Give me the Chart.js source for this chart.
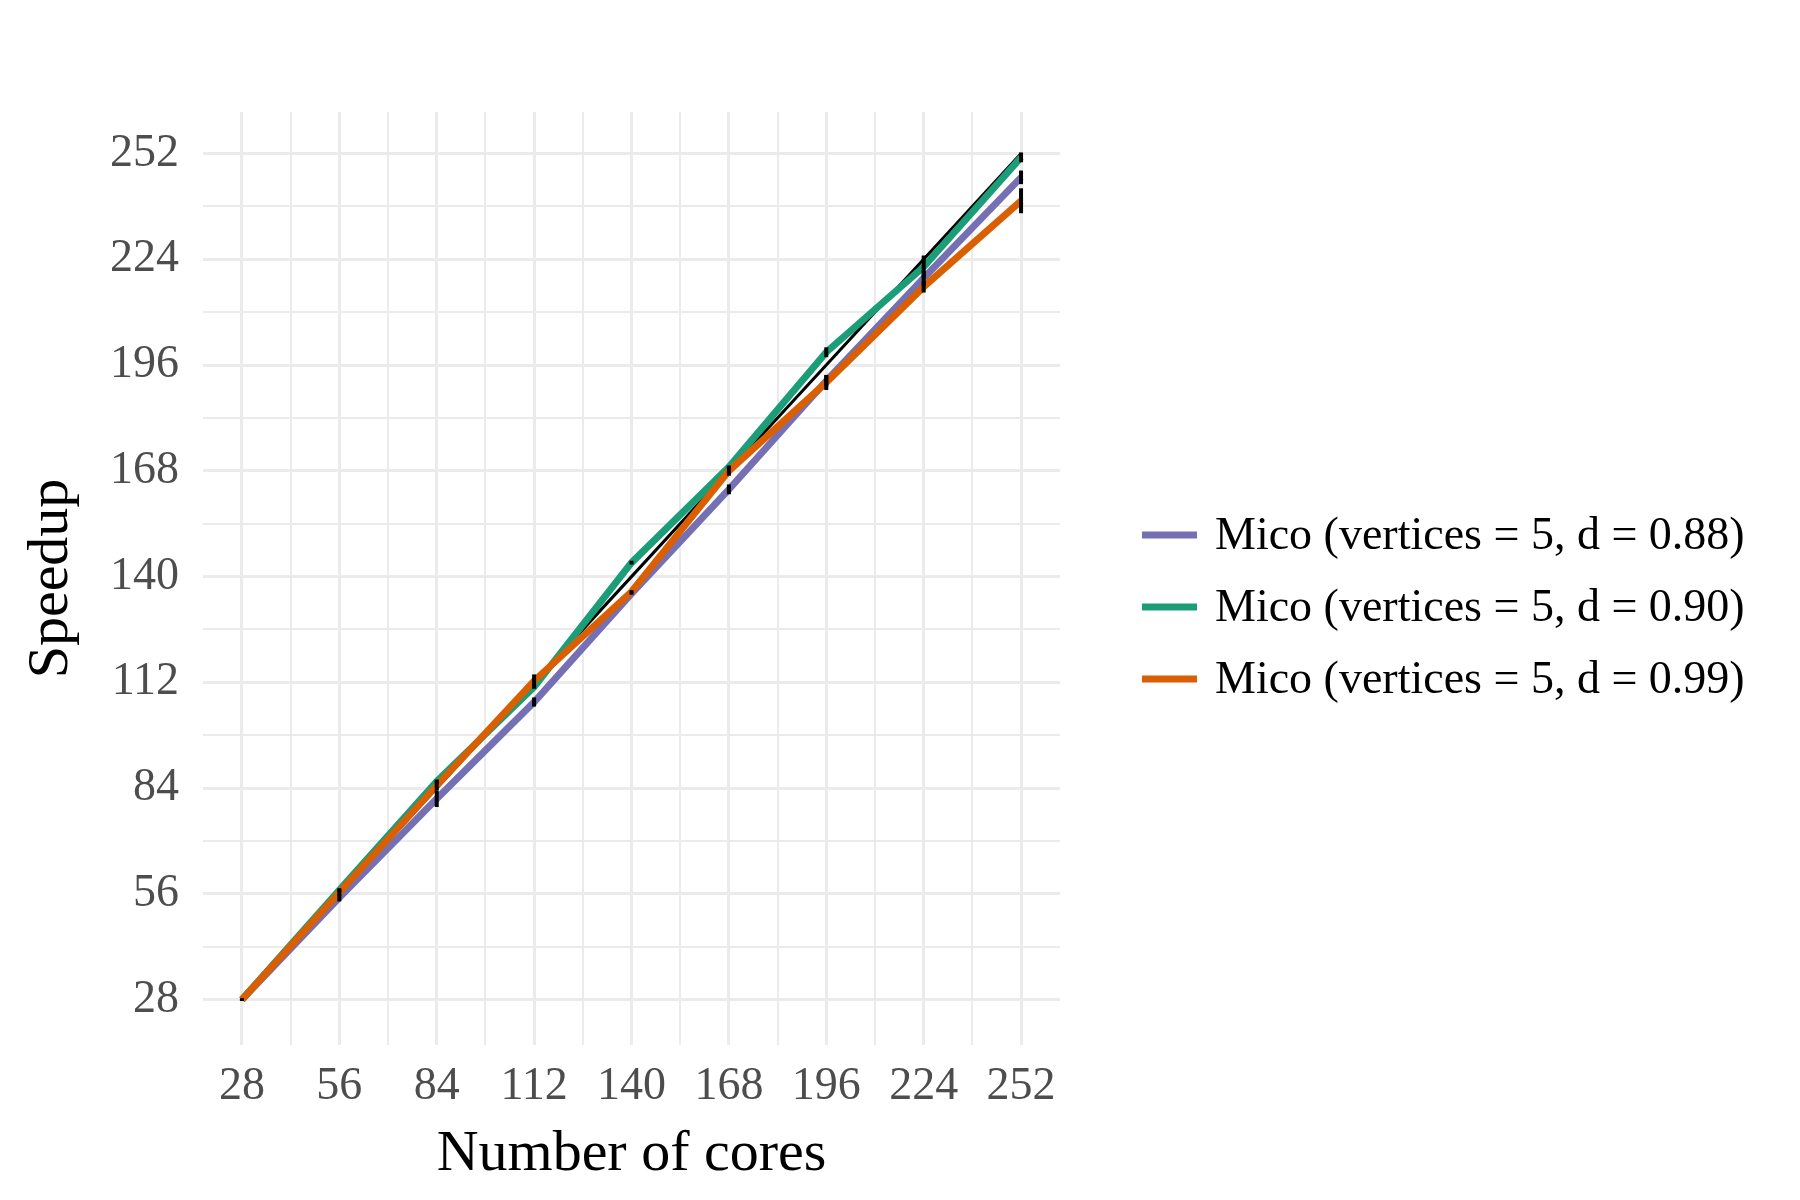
<!DOCTYPE html>
<html>
<head>
<meta charset="utf-8">
<script src="https://cdn.jsdelivr.net/npm/chart.js@4.4.1/dist/chart.umd.min.js"></script>
<style>
  html, body { margin: 0; padding: 0; background: #fff; }
  #speedup { display: block; }
</style>
</head>
<body>
<canvas id="speedup" width="1800" height="1200"></canvas>
<script>
// Data
const cores = [28, 56, 84, 112, 140, 168, 196, 224, 252]
const idealSpeedup = [28, 56, 84, 112, 140, 168, 196, 224, 252]

const speedupD088 = [28, 55, 81.2, 106.8, 135.5, 163.1, 191.8, 219, 245.7]
const speedupD090 = [28, 57, 85.8, 110.8, 143.7, 169, 199.4, 222, 251]
const speedupD099 = [28, 56.4, 84.7, 112.4, 136, 168, 191.4, 216.7, 239.5]

// half height of each error bar
const errD088 = [0.3, 1, 2.2, 1.2, 0.3, 1.3, 1.5, 2, 1.8]
const errD090 = [0.3, 0.5, 0.5, 0.5, 0.5, 0.4, 1.3, 3, 1.3]
const errD099 = [0.3, 0.8, 1.3, 1.7, 0.4, 1.3, 2, 1.5, 3.3]

const seriesLabels = [
  'Mico (vertices = 5, d = 0.88)',
  'Mico (vertices = 5, d = 0.90)',
  'Mico (vertices = 5, d = 0.99)',
]

const majorTicks = [28, 56, 84, 112, 140, 168, 196, 224, 252]
const minorTicks = [42, 70, 98, 126, 154, 182, 210, 238]

const PURPLE = '#7570B3'
const GREEN = '#1B9E77'
const ORANGE = '#D95F02'
const GRID = '#EBEBEB'
const SERIF = "'Liberation Serif', 'DejaVu Serif', serif"

const toPoints = ys => cores.map((x, i) => ({ x: x, y: ys[i] }))

const series = [
  { label: seriesLabels[0], data: toPoints(speedupD088), errors: errD088, color: PURPLE, order: 3 },
  { label: seriesLabels[1], data: toPoints(speedupD090), errors: errD090, color: GREEN, order: 2 },
  { label: seriesLabels[2], data: toPoints(speedupD099), errors: errD099, color: ORANGE, order: 1 },
]

const datasets = series.map(s => ({
  label: s.label,
  data: s.data,
  errorBars: s.errors,
  borderColor: s.color,
  backgroundColor: s.color,
  borderWidth: 7,
  pointRadius: 0,
  tension: 0,
  order: s.order,
}))
datasets.push({
  label: 'ideal',
  data: toPoints(idealSpeedup),
  borderColor: '#000000',
  borderWidth: 3,
  pointRadius: 0,
  tension: 0,
  order: 4,
})

const allTicks = [...majorTicks, ...minorTicks].sort((a, b) => a - b)
const setTicks = axis => {
  axis.ticks = allTicks.map(v => ({ value: v }))
}
const tickLabel = v => (majorTicks.includes(v) ? String(v) : '')
const gridWidth = c => (c.tick && majorTicks.includes(c.tick.value) ? 3 : 2)

// black vertical error bars, no caps
const errorBarPlugin = {
  id: 'errorBars',
  afterDatasetsDraw(chart) {
    const { ctx } = chart
    const xs = chart.scales.x
    const ys = chart.scales.y
    ctx.save()
    ctx.strokeStyle = '#000000'
    ctx.lineWidth = 4
    chart.data.datasets.forEach(ds => {
      if (!ds.errorBars) return
      ds.data.forEach((p, i) => {
        const e = ds.errorBars[i]
        const px = xs.getPixelForValue(p.x)
        ctx.beginPath()
        ctx.moveTo(px, ys.getPixelForValue(p.y - e))
        ctx.lineTo(px, ys.getPixelForValue(p.y + e))
        ctx.stroke()
      })
    })
    ctx.restore()
  },
}

// legend on the right, ggplot style
const legendPlugin = {
  id: 'sideLegend',
  afterDraw(chart) {
    const { ctx } = chart
    const keyLeft = 1142
    const keyRight = 1197
    const textLeft = 1215
    const firstRow = 535
    const rowStep = 72
    ctx.save()
    ctx.font = '46px ' + SERIF
    ctx.textBaseline = 'middle'
    ctx.textAlign = 'left'
    series.forEach((s, i) => {
      const y = firstRow + i * rowStep
      ctx.strokeStyle = s.color
      ctx.lineWidth = 7
      ctx.beginPath()
      ctx.moveTo(keyLeft, y)
      ctx.lineTo(keyRight, y)
      ctx.stroke()
      ctx.fillStyle = '#000000'
      ctx.fillText(s.label, textLeft, y + 2)
    })
    ctx.restore()
  },
}

const ctxSpeedup = document.getElementById('speedup').getContext('2d')

const configSpeedup = {
  type: 'line',
  data: { datasets: datasets },
  options: {
    responsive: false,
    devicePixelRatio: 1,
    animation: false,
    layout: { padding: { top: 112, right: 740, left: 0, bottom: 0 } },
    plugins: {
      legend: { display: false },
      tooltip: { enabled: false },
    },
    scales: {
      x: {
        type: 'linear',
        min: 16.8,
        max: 263.2,
        afterBuildTicks: setTicks,
        afterFit: axis => {
          axis.height = 155
        },
        border: { display: false },
        grid: { color: GRID, lineWidth: gridWidth, drawTicks: false },
        ticks: {
          autoSkip: false,
          maxRotation: 0,
          padding: 14,
          color: '#4D4D4D',
          font: { family: SERIF, size: 46 },
          callback: tickLabel,
        },
        title: {
          display: true,
          text: 'Number of cores',
          color: '#000000',
          font: { family: SERIF, size: 58 },
          padding: { top: 0, bottom: 10 },
        },
      },
      y: {
        type: 'linear',
        min: 16,
        max: 263,
        afterBuildTicks: setTicks,
        afterFit: axis => {
          axis.width = 203
        },
        border: { display: false },
        grid: { color: GRID, lineWidth: gridWidth, drawTicks: false },
        ticks: {
          autoSkip: false,
          padding: 24,
          color: '#4D4D4D',
          font: { family: SERIF, size: 46 },
          callback: tickLabel,
        },
        title: {
          display: true,
          text: 'Speedup',
          color: '#000000',
          font: { family: SERIF, size: 58 },
          padding: { top: 17, bottom: 0 },
        },
      },
    },
  },
  plugins: [errorBarPlugin, legendPlugin],
}

const speedupChart = new Chart(ctxSpeedup, configSpeedup)
</script>
</body>
</html>
